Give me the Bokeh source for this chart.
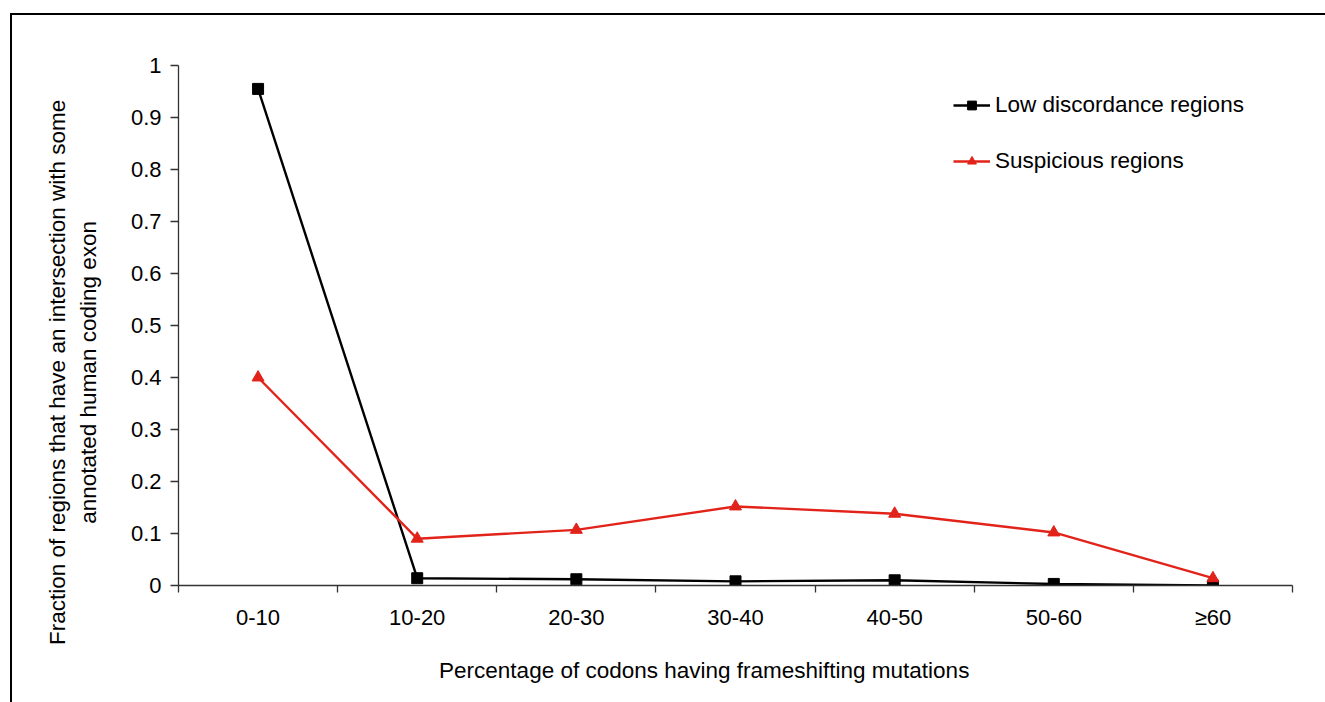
from bokeh.plotting import figure
from bokeh.models import Range1d, FixedTicker, Legend, LegendItem
from bokeh.embed import file_html
from bokeh.resources import INLINE

# ---- data ----
categories = ["0-10", "10-20", "20-30", "30-40", "40-50", "50-60", "≥60"]
low_discordance = [0.955, 0.014, 0.012, 0.008, 0.010, 0.003, 0.0]
suspicious = [0.400, 0.090, 0.107, 0.152, 0.138, 0.102, 0.014]
y_ticks = [0.0, 0.1, 0.2, 0.3, 0.4, 0.5, 0.6, 0.7, 0.8, 0.9, 1.0]
y_tick_labels = ["0", "0.1", "0.2", "0.3", "0.4", "0.5", "0.6", "0.7", "0.8", "0.9", "1"]
x_label_text = "Percentage of codons having frameshifting mutations"
y_label_lines = ["Fraction of regions that have an intersection with some",
                 "annotated human coding exon"]
series_names = ["Low discordance regions", "Suspicious regions"]

FONT = "Liberation Sans"
FS = "22px"
FS_LABEL = "22.5px"
BLACK = "#000000"
RED = "#E2231A"
AXIS = "#333333"

xs = [i + 0.5 for i in range(len(categories))]
boundaries = list(range(len(categories) + 1))

# non-breaking padding shifts the centred axis labels as in the original
NB = "\u00a0"
y_label = "\n".join(line + NB * 15 for line in y_label_lines)
x_label = x_label_text + NB * 10

# outer frame lines (left and top edge of the original panel) drawn as page background
frame_css = {
    "background-color": "white",
    "background-image": "linear-gradient(#000, #000), linear-gradient(#000, #000)",
    "background-size": "2px 100%, 100% 2px",
    "background-position": "10px 13px, 10px 13px",
    "background-repeat": "no-repeat",
}

p = figure(width=1325, height=702, output_backend="svg", toolbar_location=None,
           title=None, x_range=Range1d(0, len(categories)), y_range=Range1d(0, 1),
           min_border_left=178, min_border_right=33, min_border_top=65, min_border_bottom=117,
           styles=frame_css)
p.outline_line_color = None
p.xgrid.grid_line_color = None
p.ygrid.grid_line_color = None
p.background_fill_color = None
p.border_fill_color = None

# x axis
xa = p.xaxis[0]
xa.ticker = FixedTicker(ticks=xs, minor_ticks=boundaries)
xa.major_label_overrides = {x: c for x, c in zip(xs, categories)}
xa.major_tick_line_color = None
xa.minor_tick_in = 0
xa.minor_tick_out = 7
xa.minor_tick_line_color = AXIS
xa.minor_tick_line_width = 1.3
xa.axis_line_color = AXIS
xa.axis_line_width = 1.3
xa.major_label_text_font = FONT
xa.major_label_text_font_size = FS
xa.major_label_text_color = BLACK
xa.major_label_standoff = 12
xa.axis_label = x_label
xa.axis_label_text_font = FONT
xa.axis_label_text_font_size = FS_LABEL
xa.axis_label_text_font_style = "normal"
xa.axis_label_text_color = BLACK
xa.axis_label_standoff = 25

# y axis
ya = p.yaxis[0]
ya.ticker = FixedTicker(ticks=y_ticks, minor_ticks=[])
ya.major_label_overrides = {t: l for t, l in zip(y_ticks, y_tick_labels)}
ya.major_tick_in = 0
ya.major_tick_out = 8
ya.major_tick_line_color = AXIS
ya.major_tick_line_width = 1.3
ya.minor_tick_line_color = None
ya.axis_line_color = AXIS
ya.axis_line_width = 1.3
ya.major_label_text_font = FONT
ya.major_label_text_font_size = FS
ya.major_label_text_color = BLACK
ya.major_label_standoff = 9
ya.axis_label = y_label
ya.axis_label_text_font = FONT
ya.axis_label_text_font_size = FS_LABEL
ya.axis_label_text_font_style = "normal"
ya.axis_label_text_color = BLACK
ya.axis_label_text_line_height = 1.25
ya.axis_label_standoff = 27

# series
l1 = p.line(xs, low_discordance, line_color=BLACK, line_width=2.4)
m1 = p.scatter(xs, low_discordance, marker="square", size=11, fill_color=BLACK, line_color=BLACK)
l2 = p.line(xs, suspicious, line_color=RED, line_width=2.4)
m2 = p.scatter(xs, suspicious, marker="triangle", size=12, fill_color=RED, line_color=RED)

legend = Legend(items=[LegendItem(label=series_names[0], renderers=[l1, m1]),
                       LegendItem(label=series_names[1], renderers=[l2, m2])],
                location=(775, 411), padding=0, margin=0, spacing=30,
                glyph_width=37, glyph_height=22, label_height=22, label_standoff=5,
                label_text_font=FONT, label_text_font_size=FS_LABEL, label_text_color=BLACK,
                border_line_color=None, background_fill_alpha=0)
p.add_layout(legend)

open("out.html", "w").write(file_html(p, INLINE))
